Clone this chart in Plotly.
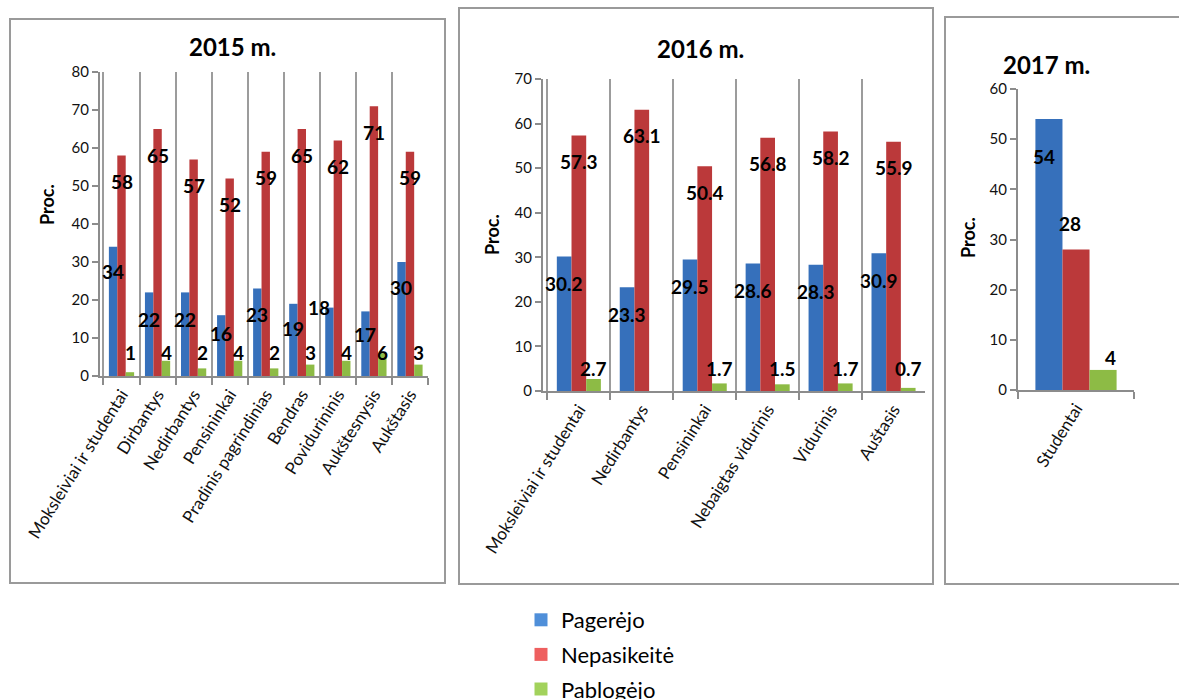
import plotly.graph_objects as go

W, H = 1179, 699
FONT = "Lato"

# ---- data -------------------------------------------------------------
series_names = ["Pagerėjo", "Nepasikeitė", "Pablogėjo"]

cats_2015 = ["Moksleiviai ir studentai", "Dirbantys", "Nedirbantys", "Pensininkai",
             "Pradinis pagrindinias", "Bendras", "Povidurininis", "Aukštesnysis", "Aukštasis"]
pagerejo_2015 = [34, 22, 22, 16, 23, 19, 18, 17, 30]
nepasikeite_2015 = [58, 65, 57, 52, 59, 65, 62, 71, 59]
pablogejo_2015 = [1, 4, 2, 4, 2, 3, 4, 6, 3]

cats_2016 = ["Moksleiviai ir studentai", "Nedirbantys", "Pensininkai",
             "Nebaigtas vidurinis", "Vidurinis", "Auštasis"]
pagerejo_2016 = [30.2, 23.3, 29.5, 28.6, 28.3, 30.9]
nepasikeite_2016 = [57.3, 63.1, 50.4, 56.8, 58.2, 55.9]
pablogejo_2016 = [2.7, None, 1.7, 1.5, 1.7, 0.7]

cats_2017 = ["Studentai"]
pagerejo_2017 = [54]
nepasikeite_2017 = [28]
pablogejo_2017 = [4]

# ---- styling ----------------------------------------------------------
bar_colors = ["#3670bb", "#bb393a", "#8dbb45"]
legend_colors = ["#4f8fd9", "#ee5f5f", "#a2d25c"]
BARGAP = 0.3
axis_grey = "#8c8c8c"

# plot areas in screen pixels: left, right, top, bottom
panels = [
    dict(title="2015 m.", cats=cats_2015,
         values=[pagerejo_2015, nepasikeite_2015, pablogejo_2015],
         box=(100, 428, 72, 376), ymax=80, grid=True,
         title_xy=(232, 46), ytitle_xy=(47, 205), frame=(10, 445, 19, 583),
         # label shifts (px): blue, red, green-from-axis
         shift_blue=[-25, -27, -27, -18, -26, -25, 0, -23, -25],
         dx_blue=[0, 0, 0, 0, 0, 0, -10, 0, 0],
         shift_red=-26, green_base=24),
    dict(title="2016 m.", cats=cats_2016,
         values=[pagerejo_2016, nepasikeite_2016, pablogejo_2016],
         box=(543, 925, 79, 391), ymax=70, grid=True,
         title_xy=(700, 48), ytitle_xy=(492, 235), frame=(459, 933, 8, 584),
         shift_blue=[-27] * 6, dx_blue=[0] * 6,
         shift_red=-26, green_base=23),
    dict(title="2017 m.", cats=cats_2017,
         values=[pagerejo_2017, nepasikeite_2017, pablogejo_2017],
         box=(1018, 1134, 89, 390), ymax=60, grid=False,
         title_xy=(1046, 65), ytitle_xy=(968, 238), frame=(945, 1190, 17, 584),
         shift_blue=[-37], dx_blue=[-5],
         shift_red=None, green_base=None),
]


def fx(px):
    return px / W


def fy(py):
    return 1 - py / H


fig = go.Figure()
annotations = []
shapes = []
layout_axes = {}

for i, p in enumerate(panels):
    n = i + 1
    xa = "x" if n == 1 else f"x{n}"
    ya = "y" if n == 1 else f"y{n}"
    left, right, top, bottom = p["box"]

    for k, (name, vals) in enumerate(zip(series_names, p["values"])):
        fig.add_trace(go.Bar(
            x=p["cats"], y=vals, name=name, xaxis=xa, yaxis=ya,
            marker=dict(color=bar_colors[k], line=dict(width=0)),
            showlegend=False, hoverinfo="x+y+name",
        ))

    # value labels
    ncat = len(p["cats"])
    cat_px = (right - left) / ncat
    bw = cat_px * (1 - BARGAP) / 3
    lab_font = dict(family=FONT, size=19, color="#000000")
    for j, c in enumerate(p["cats"]):
        for k in range(3):
            v = p["values"][k][j]
            if v is None:
                continue
            ann = dict(xref=xa, yref=ya, x=c, text=f"<b>{v}</b>", showarrow=False,
                       font=lab_font, xanchor="center", yanchor="middle",
                       xshift=(k - 1) * bw)
            if n == 3:
                if k == 0:
                    ann.update(y=v, yshift=-37, xshift=-bw - 5)
                elif k == 1:
                    ann.update(y=v, yshift=26, xshift=-6)
                else:
                    ann.update(y=v, yshift=12, xshift=bw + 7)
            elif k == 0:
                ann.update(y=v, yshift=p["shift_blue"][j], xshift=-bw + p["dx_blue"][j])
            elif k == 1:
                ann.update(y=v, yshift=p["shift_red"])
            else:
                ann.update(y=0, yshift=p["green_base"])
            annotations.append(ann)

    # panel title and y-axis title
    annotations.append(dict(xref="paper", yref="paper", x=fx(p["title_xy"][0]), y=fy(p["title_xy"][1]),
                            text=f"<b>{p['title']}</b>", showarrow=False,
                            font=dict(family=FONT, size=24, color="#000000"),
                            xanchor="center", yanchor="middle"))
    annotations.append(dict(xref="paper", yref="paper", x=fx(p["ytitle_xy"][0]), y=fy(p["ytitle_xy"][1]),
                            text="<b>Proc.</b>", showarrow=False, textangle=-90,
                            font=dict(family=FONT, size=18, color="#000000"),
                            xanchor="center", yanchor="middle"))

    # panel frame
    x0, x1, y0, y1 = p["frame"]
    shapes.append(dict(type="rect", xref="paper", yref="paper",
                       x0=fx(x0), x1=fx(x1), y0=fy(y1), y1=fy(y0),
                       line=dict(color="#9a9a9a", width=2), fillcolor="rgba(0,0,0,0)",
                       layer="below"))

    xkey = "xaxis" if n == 1 else f"xaxis{n}"
    ykey = "yaxis" if n == 1 else f"yaxis{n}"
    layout_axes[xkey] = dict(
        domain=[fx(left), fx(right)], anchor=ya, type="category",
        tickson="boundaries", ticks="outside", ticklen=7, tickwidth=2, tickcolor=axis_grey,
        showline=True, linecolor=axis_grey, linewidth=2,
        showgrid=p["grid"], gridcolor="#9c9c9c", gridwidth=2,
        tickangle=-58, tickfont=dict(family=FONT, size=17, color="#111111"),
        automargin=False, fixedrange=True, zeroline=False,
    )
    layout_axes[ykey] = dict(
        domain=[fy(bottom), fy(top)], anchor=xa, range=[0, p["ymax"]], dtick=10,
        ticks="outside", ticklen=6, tickwidth=2, tickcolor=axis_grey,
        showline=True, linecolor=axis_grey, linewidth=2,
        showgrid=False, zeroline=False,
        tickfont=dict(family=FONT, size=15, color="#111111"),
        automargin=False, fixedrange=True,
    )

# legend entries
for k, name in enumerate(series_names):
    fig.add_trace(go.Scatter(
        x=[None], y=[None], mode="markers", name=name, legendgroup=name,
        marker=dict(symbol="square", size=13, color=legend_colors[k]),
        xaxis="x", yaxis="y", showlegend=True, hoverinfo="skip",
    ))

fig.update_layout(
    width=W, height=H,
    margin=dict(l=0, r=0, t=0, b=0, autoexpand=False),
    paper_bgcolor="white", plot_bgcolor="white",
    template="none",
    barmode="group", bargap=BARGAP, bargroupgap=0,
    showlegend=True,
    legend=dict(x=fx(521), y=fy(599), xanchor="left", yanchor="top",
                orientation="v", traceorder="grouped", tracegroupgap=3,
                font=dict(family=FONT, size=22, color="#000000"),
                bgcolor="rgba(0,0,0,0)", borderwidth=0),
    annotations=annotations, shapes=shapes,
    **layout_axes,
)

fig.write_html("out.html")
